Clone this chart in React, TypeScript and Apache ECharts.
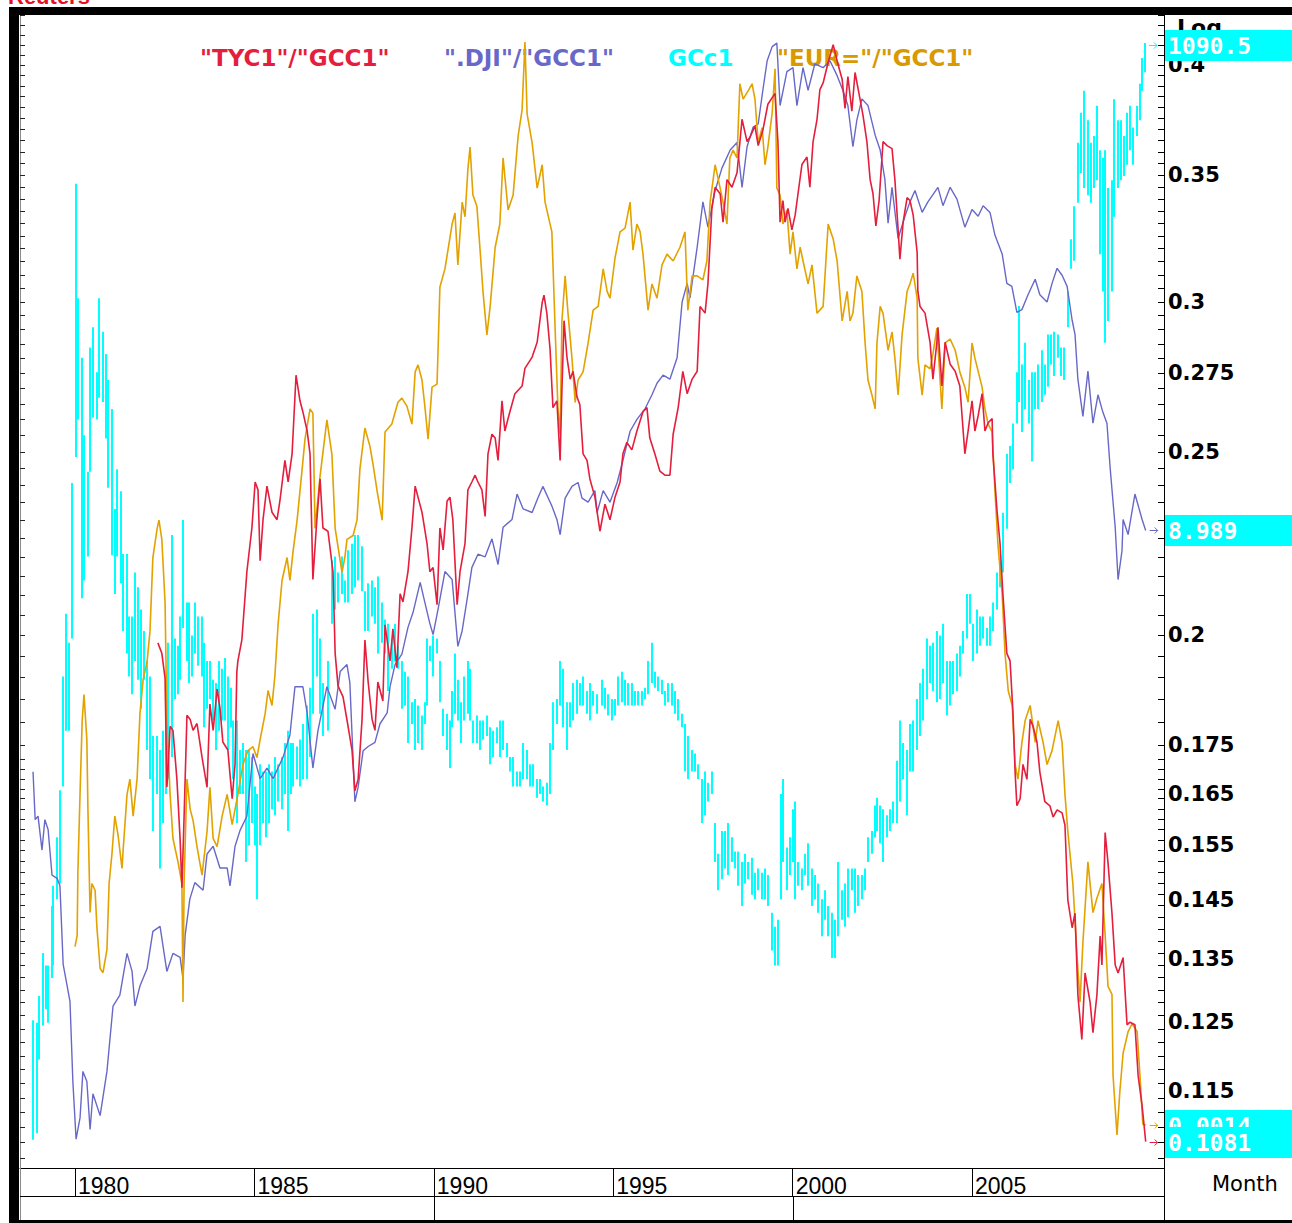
import React, { useEffect, useRef } from 'react';
import * as echarts from 'echarts';

const W = 1292;
const H = 1223;

// axis extents (decimal years / ratio units)
const X_MIN = 1978.467;
const X_MAX = 2010.35;
const RED_MIN = 0.1047;
const RED_MAX = 0.4251;
const DJI_MIN = 1.1669;
const DJI_MAX = 46.83;
const GOLD_MIN = 181.65;
const GOLD_MAX = 1144.1;
const EUR_MIN = 0.0013411;
const EUR_MAX = 0.0042438;

const RED = '#E41E3C';
const BLUE = '#6868C8';
const CYAN = '#00FFFF';
const ORANGE = '#E2A200';
const ORANGE_TEXT = '#D89A00';

const legendNames = ['"TYC1"/"GCC1"', '".DJI"/"GCC1"', 'GCc1', '"EUR="/"GCC1"'];
const yearTicks = [1980, 1985, 1990, 1995, 2000, 2005];
const rightTickLabels = [0.4, 0.35, 0.3, 0.275, 0.25, 0.225, 0.2, 0.175, 0.165, 0.155, 0.145, 0.135, 0.125, 0.115];
const decadeMarks = [1990, 2000];
const goldLast = 1090.5;

// "TYC1"/"GCC1"
const tyGold: number[][] = [
[1982.31,0.1982],[1982.42,0.1957],[1982.51,0.1899],[1982.56,0.1663],[1982.59,0.1694],[1982.65,0.1791],[1982.73,0.1782],[1982.84,0.1679],[1982.93,0.156],[1982.98,0.1472],[1983.04,0.1604],[1983.12,0.1815],[1983.21,0.1806],[1983.29,0.1782],[1983.40,0.1797],[1983.54,0.1725],[1983.68,0.1663],[1983.76,0.184],[1983.85,0.1782],[1983.96,0.1874],[1984.04,0.1831],[1984.12,0.1757],[1984.26,0.174],[1984.38,0.164],[1984.46,0.171],[1984.51,0.1914],[1984.54,0.1939],[1984.65,0.1989],[1984.79,0.2161],[1984.93,0.2279],[1985.02,0.241],[1985.10,0.2387],[1985.16,0.219],[1985.24,0.2302],[1985.35,0.2398],[1985.49,0.2323],[1985.63,0.2302],[1985.71,0.2355],[1985.85,0.2474],[1985.94,0.241],[1986.05,0.2494],[1986.16,0.2744],[1986.27,0.266],[1986.35,0.2625],[1986.47,0.2564],[1986.55,0.2494],[1986.63,0.2141],[1986.74,0.2302],[1986.83,0.2419],[1986.91,0.2279],[1987.05,0.227],[1987.19,0.2161],[1987.25,0.1957],[1987.33,0.1881],[1987.47,0.1856],[1987.61,0.1791],[1987.72,0.174],[1987.80,0.1656],[1987.89,0.1679],[1988.00,0.1806],[1988.08,0.1989],[1988.17,0.189],[1988.28,0.1806],[1988.36,0.1782],[1988.44,0.189],[1988.58,0.1847],[1988.64,0.2026],[1988.78,0.1939],[1988.86,0.2016],[1988.97,0.1923],[1989.06,0.2104],[1989.14,0.2083],[1989.28,0.2161],[1989.39,0.2279],[1989.48,0.2398],[1989.56,0.2366],[1989.67,0.2323],[1989.81,0.2237],[1989.89,0.2161],[1989.98,0.2172],[1990.09,0.2076],[1990.17,0.2279],[1990.26,0.2219],[1990.37,0.2355],[1990.45,0.2366],[1990.53,0.2302],[1990.65,0.2076],[1990.73,0.2161],[1990.87,0.2237],[1990.95,0.2387],[1991.06,0.241],[1991.15,0.243],[1991.23,0.241],[1991.34,0.2387],[1991.43,0.2311],[1991.51,0.2494],[1991.62,0.2554],[1991.71,0.2542],[1991.79,0.2474],[1991.90,0.266],[1991.98,0.2564],[1992.12,0.2625],[1992.26,0.2683],[1992.46,0.2708],[1992.54,0.2767],[1992.74,0.2805],[1992.88,0.2856],[1993.02,0.2997],[1993.07,0.3024],[1993.15,0.2959],[1993.24,0.2832],[1993.32,0.2638],[1993.43,0.266],[1993.52,0.2474],[1993.57,0.2696],[1993.63,0.2932],[1993.71,0.2805],[1993.80,0.2731],[1993.88,0.2757],[1993.99,0.2673],[1994.07,0.2647],[1994.16,0.2494],[1994.27,0.2474],[1994.35,0.2419],[1994.49,0.2366],[1994.63,0.227],[1994.77,0.2346],[1994.91,0.2302],[1995.05,0.2366],[1995.19,0.241],[1995.27,0.2494],[1995.38,0.2529],[1995.52,0.2506],[1995.66,0.2564],[1995.83,0.2625],[1995.94,0.2638],[1996.02,0.2542],[1996.16,0.2494],[1996.30,0.2442],[1996.44,0.243],[1996.58,0.243],[1996.67,0.2554],[1996.81,0.2638],[1996.94,0.2757],[1997.06,0.2683],[1997.20,0.2731],[1997.34,0.2757],[1997.42,0.2983],[1997.56,0.2959],[1997.64,0.3067],[1997.75,0.3361],[1997.84,0.3448],[1997.98,0.3421],[1998.06,0.3305],[1998.17,0.348],[1998.31,0.3448],[1998.45,0.3509],[1998.59,0.3745],[1998.73,0.3645],[1998.81,0.3664],[1998.95,0.3714],[1999.04,0.3627],[1999.17,0.3695],[1999.31,0.3814],[1999.43,0.3845],[1999.51,0.3864],[1999.59,0.3645],[1999.65,0.3305],[1999.73,0.3393],[1999.79,0.3305],[1999.87,0.3361],[1999.98,0.3274],[2000.07,0.3333],[2000.15,0.3421],[2000.26,0.3545],[2000.40,0.3577],[2000.48,0.3448],[2000.57,0.3645],[2000.68,0.3745],[2000.76,0.3882],[2000.85,0.3914],[2000.99,0.4014],[2001.13,0.41],[2001.27,0.4],[2001.38,0.3932],[2001.46,0.3795],[2001.54,0.3945],[2001.65,0.3782],[2001.74,0.3964],[2001.85,0.3864],[2001.96,0.3764],[2002.07,0.3645],[2002.16,0.348],[2002.24,0.3421],[2002.32,0.329],[2002.41,0.3393],[2002.52,0.3645],[2002.63,0.3627],[2002.77,0.3614],[2002.85,0.348],[2002.94,0.3274],[2002.99,0.3159],[2003.08,0.3305],[2003.19,0.3405],[2003.27,0.3393],[2003.36,0.3333],[2003.47,0.3186],[2003.49,0.3039],[2003.55,0.2983],[2003.69,0.2959],[2003.83,0.2856],[2003.91,0.2731],[2004.02,0.2856],[2004.05,0.2908],[2004.16,0.2708],[2004.25,0.2856],[2004.39,0.2781],[2004.53,0.2757],[2004.66,0.2708],[2004.80,0.2494],[2004.89,0.2564],[2005.00,0.266],[2005.08,0.2564],[2005.17,0.2612],[2005.28,0.2683],[2005.36,0.2564],[2005.45,0.259],[2005.56,0.2603],[2005.58,0.2494],[2005.70,0.2323],[2005.78,0.2237],[2005.86,0.2104],[2005.97,0.1957],[2006.06,0.1939],[2006.14,0.1822],[2006.20,0.1694],[2006.25,0.1626],[2006.34,0.164],[2006.42,0.171],[2006.53,0.1679],[2006.62,0.1806],[2006.70,0.1791],[2006.81,0.1757],[2006.89,0.1694],[2007.03,0.1634],[2007.17,0.1626],[2007.26,0.1604],[2007.37,0.1618],[2007.51,0.1612],[2007.59,0.1588],[2007.67,0.145],[2007.79,0.1402],[2007.87,0.1427],[2007.95,0.1292],[2008.06,0.1224],[2008.15,0.1327],[2008.29,0.1281],[2008.37,0.1234],[2008.48,0.1292],[2008.57,0.1388],[2008.62,0.134],[2008.71,0.1574],[2008.79,0.1517],[2008.90,0.1427],[2008.99,0.134],[2009.07,0.1327],[2009.21,0.1352],[2009.32,0.1246],[2009.40,0.125],[2009.54,0.1246],[2009.63,0.1171],[2009.74,0.1129],[2009.84,0.1081]
];

// ".DJI"/"GCC1"
const djiGold: number[][] = [
[1978.83,4.15],[1978.89,3.56],[1978.97,3.60],[1979.08,3.23],[1979.16,3.56],[1979.25,3.45],[1979.36,2.98],[1979.50,2.95],[1979.58,2.88],[1979.67,2.24],[1979.86,1.99],[1979.94,1.54],[1980.03,1.28],[1980.14,1.37],[1980.22,1.59],[1980.33,1.54],[1980.42,1.32],[1980.50,1.48],[1980.70,1.38],[1980.89,1.59],[1981.06,1.96],[1981.25,2.03],[1981.45,2.32],[1981.59,2.19],[1981.67,1.96],[1981.81,2.09],[1982.01,2.21],[1982.17,2.49],[1982.37,2.53],[1982.56,2.19],[1982.73,2.32],[1982.93,2.29],[1983.01,2.14],[1983.07,2.46],[1983.20,2.76],[1983.34,2.91],[1983.57,2.84],[1983.68,3.19],[1983.85,3.27],[1984.04,3.05],[1984.24,3.05],[1984.32,2.88],[1984.46,3.27],[1984.60,3.44],[1984.79,3.60],[1984.96,4.40],[1985.16,4.06],[1985.35,4.20],[1985.52,4.06],[1985.80,4.35],[1985.99,4.67],[1986.13,5.45],[1986.35,5.45],[1986.47,5.01],[1986.63,4.20],[1986.77,4.73],[1987.02,5.45],[1987.25,5.07],[1987.39,5.72],[1987.58,5.85],[1987.66,5.52],[1987.80,3.77],[1987.89,3.95],[1988.03,4.44],[1988.17,4.50],[1988.36,4.56],[1988.50,4.84],[1988.70,5.01],[1988.78,5.45],[1988.92,5.85],[1989.11,6.05],[1989.28,6.59],[1989.42,6.91],[1989.62,7.61],[1989.75,7.14],[1989.89,6.67],[1989.98,6.44],[1990.12,6.99],[1990.31,7.88],[1990.51,7.68],[1990.67,6.20],[1990.79,6.52],[1990.95,7.33],[1991.06,7.98],[1991.23,8.33],[1991.43,8.26],[1991.62,8.75],[1991.79,8.06],[1991.93,9.08],[1992.18,9.31],[1992.32,10.1],[1992.49,9.63],[1992.74,9.52],[1992.90,9.97],[1993.04,10.35],[1993.29,9.72],[1993.43,9.31],[1993.52,8.87],[1993.66,9.97],[1993.85,10.35],[1994.02,10.48],[1994.13,9.97],[1994.30,9.84],[1994.49,10.21],[1994.55,9.52],[1994.72,10.21],[1994.91,9.84],[1995.11,10.48],[1995.27,11.24],[1995.47,12.35],[1995.66,12.83],[1995.89,13.28],[1996.08,13.88],[1996.22,14.40],[1996.39,14.78],[1996.58,14.59],[1996.78,15.63],[1996.92,18.68],[1997.06,19.83],[1997.14,18.92],[1997.34,22.28],[1997.50,25.74],[1997.64,23.74],[1997.84,26.70],[1998.03,28.68],[1998.26,30.39],[1998.45,31.13],[1998.59,26.97],[1998.73,30.71],[1998.90,32.71],[1999.04,33.03],[1999.17,36.80],[1999.29,40.44],[1999.43,42.32],[1999.56,42.80],[1999.65,35.04],[1999.84,39.06],[2000.01,39.56],[2000.12,35.04],[2000.29,39.56],[2000.43,36.80],[2000.62,40.06],[2000.85,39.56],[2001.04,40.44],[2001.24,38.56],[2001.40,36.80],[2001.54,35.04],[2001.68,30.71],[2001.79,33.45],[2001.93,35.80],[2002.10,35.04],[2002.30,31.87],[2002.44,30.39],[2002.57,27.69],[2002.66,24.05],[2002.77,26.97],[2002.94,22.89],[2003.13,24.58],[2003.27,25.74],[2003.41,26.70],[2003.61,24.89],[2003.77,25.74],[2004.05,26.97],[2004.19,25.43],[2004.39,26.97],[2004.58,25.97],[2004.80,23.74],[2005.00,25.12],[2005.17,24.58],[2005.31,25.43],[2005.50,24.89],[2005.64,23.13],[2005.84,21.79],[2005.97,19.83],[2006.11,19.64],[2006.25,18.07],[2006.39,18.23],[2006.56,19.12],[2006.76,20.09],[2006.89,19.12],[2007.09,18.68],[2007.23,19.83],[2007.37,20.81],[2007.51,20.35],[2007.65,19.64],[2007.79,17.62],[2007.87,16.84],[2007.95,14.59],[2008.09,12.95],[2008.23,14.97],[2008.37,12.67],[2008.51,13.88],[2008.65,13.11],[2008.76,12.67],[2008.85,10.97],[2008.99,9.08],[2009.07,7.68],[2009.18,8.43],[2009.21,9.31],[2009.35,8.87],[2009.54,10.10],[2009.74,9.31],[2009.84,8.989]
];

// "EUR="/"GCC1"
const eurGold: number[][] = [
[1980.00,0.001673],[1980.06,0.001692],[1980.08,0.001802],[1980.14,0.001948],[1980.20,0.002097],[1980.25,0.002152],[1980.33,0.002058],[1980.36,0.001919],[1980.42,0.001731],[1980.47,0.001782],[1980.56,0.00177],[1980.61,0.001706],[1980.70,0.001637],[1980.78,0.00163],[1980.89,0.001668],[1980.95,0.001782],[1981.03,0.001836],[1981.11,0.001906],[1981.20,0.00187],[1981.31,0.001809],[1981.34,0.001841],[1981.45,0.001948],[1981.53,0.001978],[1981.62,0.001906],[1981.73,0.001978],[1981.81,0.002112],[1981.90,0.002185],[1982.01,0.002225],[1982.09,0.002293],[1982.17,0.002468],[1982.29,0.002541],[1982.34,0.002562],[1982.42,0.002513],[1982.51,0.002359],[1982.56,0.002097],[1982.65,0.001948],[1982.73,0.001864],[1982.87,0.001821],[1982.98,0.001782],[1983.01,0.001583],[1983.04,0.001782],[1983.12,0.001978],[1983.21,0.001919],[1983.29,0.001898],[1983.40,0.001849],[1983.54,0.001797],[1983.68,0.001877],[1983.76,0.001962],[1983.85,0.001864],[1983.96,0.001849],[1984.10,0.001906],[1984.24,0.001948],[1984.38,0.00189],[1984.54,0.001948],[1984.68,0.002007],[1984.82,0.002035],[1984.96,0.002043],[1985.07,0.002021],[1985.16,0.002058],[1985.30,0.002112],[1985.38,0.002161],[1985.49,0.002129],[1985.57,0.002192],[1985.66,0.002309],[1985.77,0.002412],[1985.91,0.002468],[1985.99,0.002412],[1986.08,0.002485],[1986.19,0.002562],[1986.33,0.002696],[1986.41,0.002778],[1986.55,0.002863],[1986.63,0.002851],[1986.69,0.002541],[1986.83,0.002677],[1987.02,0.002832],[1987.16,0.002736],[1987.25,0.002541],[1987.44,0.002432],[1987.52,0.002468],[1987.58,0.002513],[1987.75,0.002523],[1987.86,0.002562],[1987.94,0.002696],[1988.08,0.002809],[1988.22,0.002758],[1988.31,0.002707],[1988.42,0.002637],[1988.56,0.002562],[1988.64,0.002798],[1988.83,0.00282],[1989.00,0.002882],[1989.11,0.002894],[1989.25,0.002871],[1989.39,0.00282],[1989.48,0.002971],[1989.56,0.002992],[1989.67,0.002947],[1989.75,0.002871],[1989.84,0.002778],[1989.95,0.002926],[1990.09,0.002935],[1990.17,0.003234],[1990.31,0.003293],[1990.51,0.003444],[1990.59,0.003482],[1990.67,0.003306],[1990.79,0.00352],[1990.87,0.003469],[1990.95,0.003639],[1991.01,0.003719],[1991.09,0.003545],[1991.20,0.003506],[1991.29,0.003355],[1991.37,0.00322],[1991.48,0.003083],[1991.57,0.003172],[1991.71,0.003365],[1991.84,0.003444],[1991.93,0.003679],[1992.07,0.003493],[1992.21,0.003545],[1992.35,0.003761],[1992.46,0.00386],[1992.54,0.004131],[1992.60,0.003845],[1992.74,0.003735],[1992.88,0.00357],[1993.02,0.003654],[1993.10,0.00352],[1993.29,0.003417],[1993.38,0.003104],[1993.46,0.002863],[1993.52,0.00279],[1993.57,0.003126],[1993.66,0.00327],[1993.74,0.00315],[1993.85,0.003012],[1993.94,0.002882],[1994.02,0.002947],[1994.16,0.002971],[1994.30,0.003058],[1994.44,0.00316],[1994.58,0.003172],[1994.72,0.003293],[1994.83,0.00322],[1994.91,0.003198],[1995.05,0.003329],[1995.19,0.003417],[1995.33,0.00343],[1995.47,0.00352],[1995.55,0.003355],[1995.66,0.003444],[1995.75,0.003417],[1995.83,0.003342],[1995.97,0.00316],[1996.08,0.003244],[1996.22,0.003198],[1996.36,0.003306],[1996.50,0.003342],[1996.67,0.003319],[1996.86,0.003365],[1997.00,0.003417],[1997.08,0.00316],[1997.20,0.00327],[1997.34,0.00327],[1997.50,0.003257],[1997.61,0.003319],[1997.70,0.00352],[1997.84,0.003654],[1997.98,0.00357],[1998.06,0.00352],[1998.17,0.003444],[1998.25,0.003679],[1998.34,0.003708],[1998.45,0.003679],[1998.53,0.003962],[1998.62,0.003902],[1998.76,0.003934],[1998.87,0.003962],[1998.95,0.003902],[1999.04,0.003735],[1999.15,0.003792],[1999.23,0.003654],[1999.31,0.003719],[1999.43,0.003849],[1999.51,0.004022],[1999.56,0.00357],[1999.65,0.003545],[1999.73,0.003444],[1999.84,0.003493],[1999.93,0.003342],[2000.01,0.003417],[2000.12,0.003293],[2000.21,0.003365],[2000.29,0.003319],[2000.43,0.003244],[2000.54,0.003306],[2000.68,0.00315],[2000.85,0.003172],[2000.99,0.003444],[2001.13,0.003393],[2001.24,0.003319],[2001.38,0.003126],[2001.52,0.00322],[2001.60,0.003126],[2001.68,0.00315],[2001.79,0.00327],[2001.93,0.00322],[2002.02,0.003058],[2002.10,0.002947],[2002.21,0.002903],[2002.30,0.002863],[2002.35,0.003058],[2002.44,0.003172],[2002.52,0.00315],[2002.66,0.003036],[2002.77,0.003092],[2002.85,0.003012],[2002.94,0.002903],[2003.05,0.003083],[2003.19,0.00322],[2003.27,0.003244],[2003.36,0.003279],[2003.47,0.003198],[2003.49,0.003012],[2003.61,0.002903],[2003.69,0.002992],[2003.83,0.00298],[2003.91,0.003024],[2004.02,0.003104],[2004.16,0.002863],[2004.25,0.003058],[2004.39,0.00307],[2004.53,0.003036],[2004.66,0.002971],[2004.80,0.002926],[2004.89,0.002882],[2005.00,0.003058],[2005.08,0.003012],[2005.28,0.002926],[2005.36,0.002863],[2005.45,0.00282],[2005.56,0.002798],[2005.58,0.002758],[2005.64,0.002637],[2005.72,0.002503],[2005.84,0.002379],[2005.92,0.002242],[2006.01,0.00216],[2006.12,0.002129],[2006.20,0.002007],[2006.28,0.001978],[2006.39,0.002052],[2006.48,0.002097],[2006.62,0.002129],[2006.76,0.002052],[2006.84,0.002097],[2006.98,0.002052],[2007.09,0.002007],[2007.23,0.002035],[2007.40,0.002097],[2007.51,0.002052],[2007.59,0.001948],[2007.67,0.001877],[2007.81,0.001782],[2007.93,0.001655],[2008.01,0.001583],[2008.09,0.00168],[2008.23,0.001821],[2008.37,0.001731],[2008.48,0.001756],[2008.62,0.001782],[2008.71,0.001692],[2008.79,0.001608],[2008.90,0.001595],[2008.93,0.001471],[2009.04,0.001386],[2009.12,0.001448],[2009.21,0.001504],[2009.35,0.001537],[2009.46,0.001549],[2009.60,0.001537],[2009.68,0.001471],[2009.76,0.001401],[2009.84,0.0014]
];

// GCc1 monthly bars: [year, low, high]
const goldBars: number[][] = [
[1978.83,190,230],[1978.94,192,229],[1979.00,216,239],[1979.11,228,256],[1979.19,234,251],[1979.25,229,251],[1979.36,246,276],[1979.39,251,285],[1979.50,279,308],[1979.58,286,332],[1979.67,334,398],[1979.75,365,440],[1979.83,365,420],[1979.92,423,542],[1980.03,565,874],[1980.08,600,728],[1980.20,451,662],[1980.25,464,585],[1980.36,482,552],[1980.42,552,673],[1980.50,602,695],[1980.61,600,647],[1980.67,621,728],[1980.78,617,690],[1980.86,582,666],[1980.92,538,639],[1981.03,483,610],[1981.11,454,520],[1981.17,482,554],[1981.28,462,535],[1981.34,428,484],[1981.45,413,484],[1981.50,398,438],[1981.59,387,438],[1981.67,408,470],[1981.76,396,459],[1981.84,378,443],[1981.92,396,428],[1982.01,354,408],[1982.09,338,398],[1982.17,311,362],[1982.29,330,362],[1982.37,293,354],[1982.45,315,365],[1982.54,330,389],[1982.59,338,420],[1982.70,350,499],[1982.79,384,423],[1982.87,387,418],[1982.93,396,438],[1983.01,430,511],[1983.12,408,448],[1983.18,394,448],[1983.26,398,425],[1983.34,413,448],[1983.43,405,438],[1983.54,398,438],[1983.60,367,420],[1983.68,378,408],[1983.76,384,408],[1983.85,371,396],[1983.93,354,394],[1984.01,365,408],[1984.10,371,403],[1984.18,371,410],[1984.26,354,398],[1984.35,367,391],[1984.40,338,371],[1984.51,315,371],[1984.60,330,354],[1984.68,330,358],[1984.77,296,354],[1984.85,304,354],[1984.93,315,350],[1985.02,304,334],[1985.07,279,330],[1985.16,304,346],[1985.24,315,342],[1985.33,308,342],[1985.41,315,346],[1985.49,322,342],[1985.57,319,350],[1985.66,326,346],[1985.77,322,350],[1985.85,330,358],[1985.94,311,365],[1986.02,330,358],[1986.08,334,358],[1986.19,338,356],[1986.27,334,360],[1986.35,338,369],[1986.47,338,380],[1986.55,350,391],[1986.63,375,440],[1986.74,398,443],[1986.83,375,423],[1986.91,362,394],[1987.05,365,408],[1987.16,433,479],[1987.25,443,482],[1987.33,448,470],[1987.44,454,482],[1987.52,448,464],[1987.61,448,487],[1987.72,454,492],[1987.80,459,499],[1987.89,464,499],[1988.00,456,490],[1988.08,428,456],[1988.17,428,462],[1988.28,438,464],[1988.36,433,459],[1988.44,413,467],[1988.56,420,448],[1988.64,413,436],[1988.72,389,433],[1988.83,403,423],[1988.92,408,433],[1989.00,403,418],[1989.11,378,408],[1989.20,380,401],[1989.28,358,398],[1989.39,369,382],[1989.48,354,384],[1989.56,358,380],[1989.67,354,374],[1989.75,369,382],[1989.81,380,423],[1989.89,408,418],[1989.98,398,425],[1990.09,413,423],[1990.17,382,408],[1990.26,362,378],[1990.37,354,375],[1990.45,344,371],[1990.51,367,389],[1990.59,375,413],[1990.67,371,396],[1990.76,358,382],[1990.84,371,398],[1990.95,375,408],[1991.01,371,403],[1991.09,358,371],[1991.20,358,374],[1991.29,354,371],[1991.37,360,371],[1991.48,362,374],[1991.57,346,367],[1991.65,350,365],[1991.76,358,367],[1991.84,350,371],[1991.93,354,371],[1992.04,350,358],[1992.12,342,350],[1992.21,334,350],[1992.32,334,342],[1992.40,334,342],[1992.49,338,358],[1992.60,338,354],[1992.68,334,346],[1992.76,334,346],[1992.88,328,338],[1992.96,330,338],[1993.04,326,334],[1993.15,324,336],[1993.24,330,358],[1993.32,354,382],[1993.43,369,384],[1993.52,380,408],[1993.60,367,403],[1993.71,354,382],[1993.80,367,382],[1993.88,371,394],[1993.99,375,396],[1994.07,380,394],[1994.16,380,398],[1994.27,375,389],[1994.35,371,394],[1994.44,380,389],[1994.55,375,387],[1994.69,380,396],[1994.77,378,391],[1994.85,374,387],[1994.97,371,384],[1995.05,374,384],[1995.13,380,398],[1995.24,382,401],[1995.33,380,396],[1995.41,380,394],[1995.52,380,394],[1995.61,380,389],[1995.69,380,389],[1995.80,380,389],[1995.89,384,391],[1995.97,387,408],[1996.08,394,420],[1996.16,391,401],[1996.25,389,398],[1996.36,387,396],[1996.44,380,389],[1996.53,382,394],[1996.64,380,394],[1996.72,375,389],[1996.81,371,384],[1996.92,367,375],[1997.00,342,369],[1997.08,338,362],[1997.20,342,354],[1997.28,342,352],[1997.36,338,346],[1997.47,315,338],[1997.56,319,342],[1997.64,326,336],[1997.75,330,342],[1997.84,296,315],[1997.92,283,300],[1998.03,288,311],[1998.12,293,311],[1998.20,290,315],[1998.31,296,308],[1998.39,293,301],[1998.48,285,301],[1998.59,276,296],[1998.67,286,300],[1998.76,288,296],[1998.87,281,298],[1998.95,279,291],[1999.04,283,293],[1999.15,279,291],[1999.23,279,293],[1999.31,276,290],[1999.43,257,273],[1999.51,251,267],[1999.59,251,270],[1999.68,279,330],[1999.73,296,338],[1999.84,283,303],[1999.93,290,308],[2000.01,296,322],[2000.07,279,326],[2000.15,285,296],[2000.26,283,293],[2000.35,290,300],[2000.43,285,305],[2000.54,276,293],[2000.62,279,290],[2000.71,273,286],[2000.82,263,279],[2000.90,270,283],[2000.99,263,276],[2001.10,254,273],[2001.18,254,270],[2001.27,263,296],[2001.38,270,283],[2001.46,267,286],[2001.54,271,293],[2001.65,283,293],[2001.74,273,293],[2001.82,276,290],[2001.93,279,290],[2002.02,283,293],[2002.10,296,308],[2002.21,300,311],[2002.30,308,324],[2002.35,311,328],[2002.44,305,324],[2002.52,296,322],[2002.63,308,319],[2002.71,311,322],[2002.80,315,326],[2002.91,315,348],[2002.99,326,371],[2003.08,338,358],[2003.19,319,354],[2003.27,342,369],[2003.36,342,371],[2003.47,354,384],[2003.55,362,394],[2003.63,371,403],[2003.75,384,423],[2003.83,394,418],[2003.91,389,420],[2004.02,382,428],[2004.11,384,425],[2004.19,394,433],[2004.30,374,408],[2004.39,380,408],[2004.47,387,408],[2004.58,389,413],[2004.66,398,418],[2004.75,413,428],[2004.86,423,454],[2004.94,433,454],[2005.03,408,433],[2005.14,413,443],[2005.22,418,438],[2005.31,423,438],[2005.42,418,430],[2005.50,418,438],[2005.58,428,448],[2005.70,443,470],[2005.78,459,479],[2005.86,470,517],[2005.97,504,568],[2006.06,542,575],[2006.14,554,596],[2006.25,596,647],[2006.31,617,719],[2006.39,588,655],[2006.48,610,678],[2006.59,596,639],[2006.67,561,647],[2006.76,610,647],[2006.84,610,655],[2006.95,617,670],[2007.03,624,655],[2007.12,632,687],[2007.20,655,687],[2007.29,643,690],[2007.40,662,687],[2007.48,643,673],[2007.56,639,673],[2007.67,695,736],[2007.76,763,800],[2007.84,773,843],[2007.95,848,933],[2008.04,889,979],[2008.12,868,1014],[2008.23,858,967],[2008.32,848,933],[2008.40,868,943],[2008.48,879,990],[2008.57,781,922],[2008.65,736,911],[2008.71,678,922],[2008.79,702,868],[2008.90,736,879],[2008.96,829,1000],[2009.07,868,967],[2009.15,879,967],[2009.24,885,943],[2009.32,901,979],[2009.40,922,990],[2009.49,901,956],[2009.60,943,990],[2009.68,967,1025],[2009.74,1014,1068],[2009.82,1044,1094]
];

// tick marks of the log price scale: 0.005 steps down to 0.175, then 0.002 steps
function buildTickValues(): number[] {
  const out: number[] = [];
  for (let k = 85; k >= 35; k--) out.push(Math.round(k * 5) / 1000);
  for (let k = 86; k >= 53; k--) out.push(Math.round(k * 2) / 1000);
  return out.filter((v) => v >= RED_MIN && v <= RED_MAX);
}

function buildOption(): any {
  const tickValues = buildTickValues();
  const fmt = (v: number) => String(+Number(v).toFixed(4));
  return {
    animation: false,
    backgroundColor: '#ffffff',
    grid: { left: 20, right: W - 1164, top: 15, bottom: H - 1168, containLabel: false, outerBoundsMode: 'none' },
    xAxis: {
      type: 'value',
      min: X_MIN,
      max: X_MAX,
      position: 'bottom',
      axisLine: { show: true, onZero: false, lineStyle: { color: '#000', width: 1 } },
      axisTick: { show: true, inside: false, length: 28, customValues: yearTicks, lineStyle: { color: '#000', width: 1 } },
      axisLabel: {
        show: true,
        customValues: yearTicks,
        formatter: (v: number) => String(Math.round(v)),
        align: 'left',
        verticalAlign: 'top',
        margin: 6,
        padding: [0, 0, 0, 3],
        color: '#000',
        fontFamily: 'Liberation Sans',
        fontSize: 23,
      },
      splitLine: { show: false },
    },
    yAxis: [
      {
        type: 'log',
        position: 'right',
        min: RED_MIN,
        max: RED_MAX,
        axisLine: { show: true, lineStyle: { color: '#000', width: 1 } },
        axisTick: { show: true, inside: true, length: 6, customValues: tickValues, lineStyle: { color: '#000', width: 1 } },
        axisLabel: {
          show: true,
          customValues: rightTickLabels,
          formatter: fmt,
          color: '#000',
          fontFamily: 'DejaVu Sans',
          fontWeight: 'bold',
          fontSize: 21,
          margin: 4,
        },
        splitLine: { show: false },
        minorTick: { show: false },
      },
      {
        type: 'log',
        position: 'left',
        min: RED_MIN,
        max: RED_MAX,
        axisLine: { show: true, lineStyle: { color: '#8a8a8a', width: 1 } },
        axisTick: { show: true, inside: true, length: 5, customValues: tickValues, lineStyle: { color: '#222', width: 1 } },
        axisLabel: { show: false },
        splitLine: { show: false },
      },
      { type: 'log', min: DJI_MIN, max: DJI_MAX, show: false, splitLine: { show: false } },
      { type: 'log', min: GOLD_MIN, max: GOLD_MAX, show: false, splitLine: { show: false } },
      { type: 'log', min: EUR_MIN, max: EUR_MAX, show: false, splitLine: { show: false } },
    ],
    series: [
      {
        type: 'custom',
        name: legendNames[2],
        xAxisIndex: 0,
        yAxisIndex: 3,
        z: 1,
        silent: true,
        data: goldBars,
        encode: { x: 0, y: [1, 2] },
        renderItem: (params: any, api: any) => {
          const t = api.value(0);
          const a = api.coord([t, api.value(1)]);
          const b = api.coord([t, api.value(2)]);
          const x = Math.round(a[0]);
          return {
            type: 'line',
            shape: { x1: x, y1: a[1], x2: x, y2: b[1] },
            style: { stroke: CYAN, lineWidth: 2 },
          };
        },
      },
      {
        type: 'line',
        name: legendNames[1],
        yAxisIndex: 2,
        z: 2,
        data: djiGold,
        showSymbol: false,
        symbol: 'none',
        silent: true,
        lineStyle: { color: BLUE, width: 1.4 },
        itemStyle: { color: BLUE },
      },
      {
        type: 'line',
        name: legendNames[3],
        yAxisIndex: 4,
        z: 3,
        data: eurGold,
        showSymbol: false,
        symbol: 'none',
        silent: true,
        lineStyle: { color: ORANGE, width: 1.6 },
        itemStyle: { color: ORANGE },
      },
      {
        type: 'line',
        name: legendNames[0],
        yAxisIndex: 0,
        z: 4,
        data: tyGold,
        showSymbol: false,
        symbol: 'none',
        silent: true,
        lineStyle: { color: RED, width: 1.6 },
        itemStyle: { color: RED },
      },
    ],
  };
}

function buildGraphics(chart: any): any[] {
  const els: any[] = [];
  // frame
  els.push({ id: 'bandL', type: 'rect', z: 50, shape: { x: 9, y: 7, width: 10, height: H - 7 }, style: { fill: '#000' } });
  els.push({ id: 'bandT', type: 'rect', z: 50, shape: { x: 9, y: 7, width: W - 9, height: 8 }, style: { fill: '#000' } });
  els.push({ id: 'bandB', type: 'rect', z: 50, shape: { x: 9, y: 1220, width: W - 9, height: 3 }, style: { fill: '#000' } });
  els.push({ id: 'rightExt', type: 'line', z: 50, shape: { x1: 1164.5, y1: 1168, x2: 1164.5, y2: 1220 }, style: { stroke: '#000', lineWidth: 1 } });
  els.push({ id: 'leftExt', type: 'line', z: 50, shape: { x1: 20.5, y1: 1168, x2: 20.5, y2: 1220 }, style: { stroke: '#8a8a8a', lineWidth: 1 } });
  els.push({ id: 'row2', type: 'line', z: 50, shape: { x1: 20, y1: 1196.5, x2: 1164, y2: 1196.5 }, style: { stroke: '#000', lineWidth: 1 } });
  decadeMarks.forEach((yr, i) => {
    const px = Math.round(chart.convertToPixel({ xAxisIndex: 0 }, yr)) + 0.5;
    els.push({ id: 'dec' + i, type: 'line', z: 50, shape: { x1: px, y1: 1196, x2: px, y2: 1220 }, style: { stroke: '#000', lineWidth: 1 } });
  });

  // top-left source text (cut by the page edge, as in the reference)
  els.push({ id: 'src', type: 'text', z: 50, x: 8, y: -4, style: { text: 'Reuters', fill: '#E8101C', fontSize: 22, fontWeight: 'bold', fontFamily: 'Liberation Sans', verticalAlign: 'middle' } });

  // legend texts
  const legendX = [200, 444, 668, 777];
  const legendColors = [RED, BLUE, CYAN, ORANGE_TEXT];
  legendNames.forEach((n, i) => {
    els.push({ id: 'lg' + i, type: 'text', z: 0, x: legendX[i], y: 58, style: { text: n, fill: legendColors[i], fontSize: 23, fontWeight: 'bold', fontFamily: 'DejaVu Sans', verticalAlign: 'middle' } });
  });

  // Month label and Log label
  els.push({ id: 'month', type: 'text', z: 50, x: 1212, y: 1184, style: { text: 'Month', fill: '#000', fontSize: 21, fontFamily: 'DejaVu Sans', verticalAlign: 'middle' } });
  els.push({ id: 'logTxt', type: 'text', z: 99, x: 1177, y: 16, style: { text: 'Log', fill: '#000', fontSize: 22, fontWeight: 'bold', fontFamily: 'DejaVu Sans', verticalAlign: 'top' } });

  // end arrows and value boxes
  const ends = [
    { key: 'gold', seriesIndex: 0, pt: [goldBars[goldBars.length - 1][0], goldLast], text: goldLast.toFixed(1), color: CYAN },
    { key: 'dji', seriesIndex: 1, pt: djiGold[djiGold.length - 1], text: djiGold[djiGold.length - 1][1].toFixed(3), color: BLUE },
    { key: 'eur', seriesIndex: 2, pt: eurGold[eurGold.length - 1], text: eurGold[eurGold.length - 1][1].toFixed(4), color: ORANGE },
    { key: 'ty', seriesIndex: 3, pt: tyGold[tyGold.length - 1], text: tyGold[tyGold.length - 1][1].toFixed(4), color: RED },
  ];
  ends.forEach((e, i) => {
    const p = chart.convertToPixel({ seriesIndex: e.seriesIndex }, e.pt);
    const px = p[0];
    const py = Math.round(p[1]) + 0.5;
    const x0 = px + 4;
    els.push({ id: 'arS' + e.key, type: 'polyline', z: 60, shape: { points: [[x0, py], [x0 + 8, py]] }, style: { stroke: e.color, lineWidth: 1, fill: null } });
    els.push({ id: 'arH' + e.key, type: 'polyline', z: 60, shape: { points: [[x0 + 5, py - 3], [x0 + 8, py], [x0 + 5, py + 3]] }, style: { stroke: e.color, lineWidth: 1, fill: null } });
    els.push({ id: 'box' + e.key, type: 'rect', z: 100 + i * 2, shape: { x: 1165, y: Math.round(p[1]) - 15, width: W - 1165, height: 31 }, style: { fill: CYAN } });
    els.push({ id: 'boxT' + e.key, type: 'text', z: 101 + i * 2, x: 1168, y: Math.round(p[1]) + 1, style: { text: e.text, fill: '#fff', fontSize: 23, fontWeight: 'bold', fontFamily: 'DejaVu Sans Mono', verticalAlign: 'middle' } });
  });
  return els;
}

export default function App() {
  const ref = useRef<HTMLDivElement>(null);
  useEffect(() => {
    const el = ref.current;
    if (!el) return;
    const chart = echarts.init(el, null, { renderer: 'svg' });
    chart.setOption(buildOption());
    chart.setOption({ graphic: buildGraphics(chart) });
    return () => {
      chart.dispose();
    };
  }, []);
  return <div ref={ref} style={{ position: 'absolute', left: 0, top: 0, width: W, height: H, background: '#fff' }} />;
}
